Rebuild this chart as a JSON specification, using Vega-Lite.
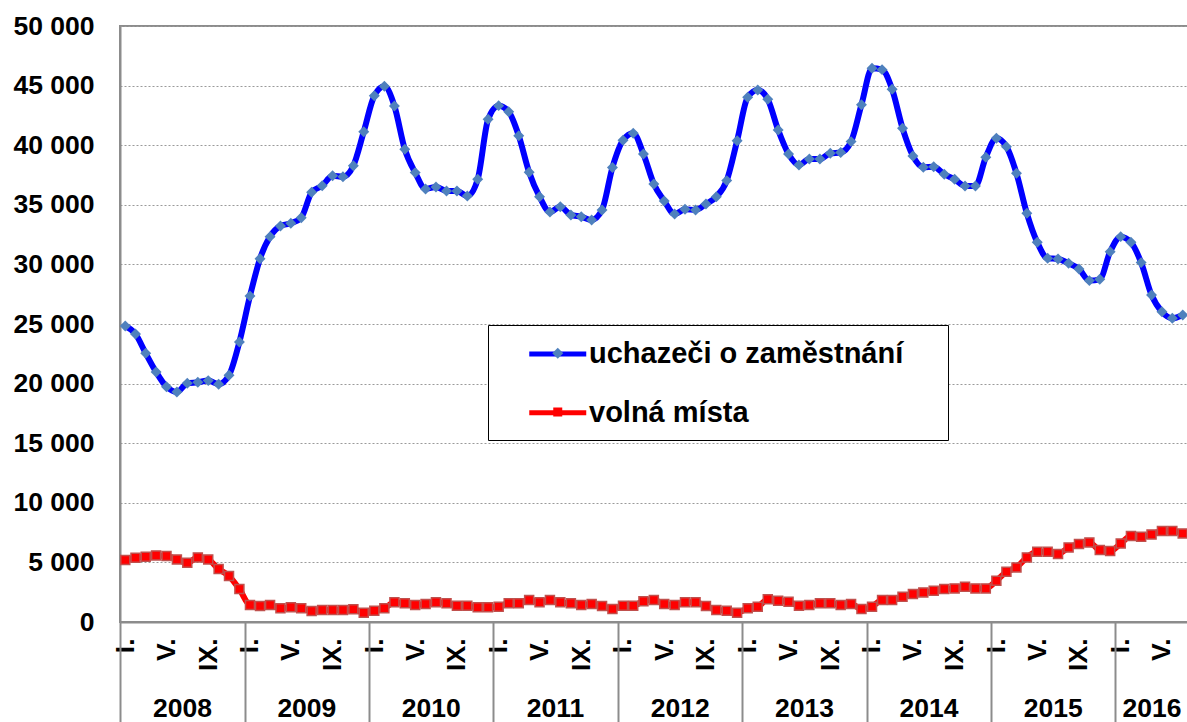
{
  "$schema": "https://vega.github.io/schema/vega-lite/v6.json",
  "width": 1068,
  "height": 596,
  "autosize": {"type": "none"},
  "padding": {"left": 120, "top": 26, "right": 0, "bottom": 100},
  "background": "white",
  "config": {
    "view": {"stroke": "#8c8c8c", "strokeWidth": 2},
    "font": "Liberation Sans",
    "axis": {"labelFont": "Liberation Sans", "labelFontWeight": "bold", "labelColor": "black", "labelFontSize": 26.5},
    "axisX": {"grid": false}
  },
  "data": {
    "values": [
      {"month": "2008-01", "uchazeči o zaměstnání": 24830, "volná místa": 5195},
      {"month": "2008-02", "uchazeči o zaměstnání": 24160, "volná místa": 5390},
      {"month": "2008-03", "uchazeči o zaměstnání": 22540, "volná místa": 5475},
      {"month": "2008-04", "uchazeči o zaměstnání": 20975, "volná místa": 5585},
      {"month": "2008-05", "uchazeči o zaměstnání": 19740, "volná místa": 5530},
      {"month": "2008-06", "uchazeči o zaměstnání": 19300, "volná místa": 5250},
      {"month": "2008-07", "uchazeči o zaměstnání": 20030, "volná místa": 4970},
      {"month": "2008-08", "uchazeči o zaměstnání": 20110, "volná místa": 5420},
      {"month": "2008-09", "uchazeči o zaměstnání": 20250, "volná místa": 5250},
      {"month": "2008-10", "uchazeči o zaměstnání": 19950, "volná místa": 4440},
      {"month": "2008-11", "uchazeči o zaměstnání": 20700, "volná místa": 3855},
      {"month": "2008-12", "uchazeči o zaměstnání": 23490, "volná místa": 2765},
      {"month": "2009-01", "uchazeči o zaměstnání": 27350, "volná místa": 1425},
      {"month": "2009-02", "uchazeči o zaměstnání": 30480, "volná místa": 1340},
      {"month": "2009-03", "uchazeči o zaměstnání": 32330, "volná místa": 1425},
      {"month": "2009-04", "uchazeči o zaměstnání": 33220, "volná místa": 1145},
      {"month": "2009-05", "uchazeči o zaměstnání": 33450, "volná místa": 1230},
      {"month": "2009-06", "uchazeči o zaměstnání": 33920, "volná místa": 1145},
      {"month": "2009-07", "uchazeči o zaměstnání": 36050, "volná místa": 920},
      {"month": "2009-08", "uchazeči o zaměstnání": 36600, "volná místa": 1005},
      {"month": "2009-09", "uchazeči o zaměstnání": 37440, "volná místa": 1005},
      {"month": "2009-10", "uchazeči o zaměstnání": 37360, "volná místa": 1005},
      {"month": "2009-11", "uchazeči o zaměstnání": 38280, "volná místa": 1060},
      {"month": "2009-12", "uchazeči o zaměstnání": 41130, "volná místa": 780},
      {"month": "2010-01", "uchazeči o zaměstnání": 44150, "volná místa": 950},
      {"month": "2010-02", "uchazeči o zaměstnání": 44940, "volná místa": 1145},
      {"month": "2010-03", "uchazeči o zaměstnání": 43290, "volná místa": 1650},
      {"month": "2010-04", "uchazeči o zaměstnání": 39660, "volná místa": 1565},
      {"month": "2010-05", "uchazeči o zaměstnání": 37700, "volná místa": 1425},
      {"month": "2010-06", "uchazeči o zaměstnání": 36330, "volná místa": 1510},
      {"month": "2010-07", "uchazeči o zaměstnání": 36500, "volná místa": 1650},
      {"month": "2010-08", "uchazeči o zaměstnání": 36160, "volná místa": 1565},
      {"month": "2010-09", "uchazeči o zaměstnání": 36160, "volná místa": 1370},
      {"month": "2010-10", "uchazeči o zaměstnání": 35740, "volná místa": 1370},
      {"month": "2010-11", "uchazeči o zaměstnání": 37140, "volná místa": 1230},
      {"month": "2010-12", "uchazeči o zaměstnání": 42170, "volná místa": 1230},
      {"month": "2011-01", "uchazeči o zaměstnání": 43320, "volná místa": 1285},
      {"month": "2011-02", "uchazeči o zaměstnání": 42810, "volná místa": 1565},
      {"month": "2011-03", "uchazeči o zaměstnání": 40800, "volná místa": 1565},
      {"month": "2011-04", "uchazeči o zaměstnání": 37730, "volná místa": 1845},
      {"month": "2011-05", "uchazeči o zaměstnání": 35680, "volná místa": 1650},
      {"month": "2011-06", "uchazeči o zaměstnání": 34400, "volná místa": 1845},
      {"month": "2011-07", "uchazeči o zaměstnání": 34840, "volná místa": 1650},
      {"month": "2011-08", "uchazeči o zaměstnání": 34150, "volná místa": 1565},
      {"month": "2011-09", "uchazeči o zaměstnání": 34000, "volná místa": 1425},
      {"month": "2011-10", "uchazeči o zaměstnání": 33730, "volná místa": 1510},
      {"month": "2011-11", "uchazeči o zaměstnání": 34570, "volná místa": 1340},
      {"month": "2011-12", "uchazeči o zaměstnání": 38130, "volná místa": 1090},
      {"month": "2012-01", "uchazeči o zaměstnání": 40410, "volná místa": 1370},
      {"month": "2012-02", "uchazeči o zaměstnání": 41000, "volná místa": 1370},
      {"month": "2012-03", "uchazeči o zaměstnání": 39260, "volná místa": 1750},
      {"month": "2012-04", "uchazeči o zaměstnání": 36750, "volná místa": 1845},
      {"month": "2012-05", "uchazeči o zaměstnání": 35320, "volná místa": 1510},
      {"month": "2012-06", "uchazeči o zaměstnání": 34230, "volná místa": 1425},
      {"month": "2012-07", "uchazeči o zaměstnání": 34620, "volná místa": 1650},
      {"month": "2012-08", "uchazeči o zaměstnání": 34570, "volná místa": 1650},
      {"month": "2012-09", "uchazeči o zaměstnání": 35070, "volná místa": 1340},
      {"month": "2012-10", "uchazeči o zaměstnání": 35680, "volná místa": 1005},
      {"month": "2012-11", "uchazeči o zaměstnání": 37030, "volná místa": 950},
      {"month": "2012-12", "uchazeči o zaměstnání": 40380, "volná místa": 780},
      {"month": "2013-01", "uchazeči o zaměstnání": 44020, "volná místa": 1145},
      {"month": "2013-02", "uchazeči o zaměstnání": 44630, "volná místa": 1285},
      {"month": "2013-03", "uchazeči o zaměstnání": 43850, "volná místa": 1900},
      {"month": "2013-04", "uchazeči o zaměstnání": 41280, "volná místa": 1790},
      {"month": "2013-05", "uchazeči o zaměstnání": 39260, "volná místa": 1700},
      {"month": "2013-06", "uchazeči o zaměstnání": 38340, "volná místa": 1370},
      {"month": "2013-07", "uchazeči o zaměstnání": 38840, "volná místa": 1425},
      {"month": "2013-08", "uchazeči o zaměstnání": 38840, "volná místa": 1565},
      {"month": "2013-09", "uchazeči o zaměstnání": 39320, "volná místa": 1565},
      {"month": "2013-10", "uchazeči o zaměstnání": 39390, "volná místa": 1425},
      {"month": "2013-11", "uchazeči o zaměstnání": 40300, "volná místa": 1510},
      {"month": "2013-12", "uchazeči o zaměstnání": 43400, "volná místa": 1090},
      {"month": "2014-01", "uchazeči o zaměstnání": 46450, "volná místa": 1285},
      {"month": "2014-02", "uchazeči o zaměstnání": 46340, "volná místa": 1845},
      {"month": "2014-03", "uchazeči o zaměstnání": 44690, "volná místa": 1845},
      {"month": "2014-04", "uchazeči o zaměstnání": 41430, "volná místa": 2120},
      {"month": "2014-05", "uchazeči o zaměstnání": 39100, "volná místa": 2345},
      {"month": "2014-06", "uchazeči o zaměstnání": 38150, "volná místa": 2485},
      {"month": "2014-07", "uchazeči o zaměstnání": 38200, "volná místa": 2625},
      {"month": "2014-08", "uchazeči o zaměstnání": 37560, "volná místa": 2765},
      {"month": "2014-09", "uchazeči o zaměstnání": 37140, "volná místa": 2820},
      {"month": "2014-10", "uchazeči o zaměstnání": 36580, "volná místa": 2960},
      {"month": "2014-11", "uchazeči o zaměstnání": 36580, "volná místa": 2820},
      {"month": "2014-12", "uchazeči o zaměstnání": 38990, "volná místa": 2820},
      {"month": "2015-01", "uchazeči o zaměstnání": 40580, "volná místa": 3465},
      {"month": "2015-02", "uchazeči o zaměstnání": 39880, "volná místa": 4220},
      {"month": "2015-03", "uchazeči o zaměstnání": 37640, "volná místa": 4580},
      {"month": "2015-04", "uchazeči o zaměstnání": 34290, "volná místa": 5420},
      {"month": "2015-05", "uchazeči o zaměstnání": 31860, "volná místa": 5890},
      {"month": "2015-06", "uchazeči o zaměstnání": 30510, "volná místa": 5890},
      {"month": "2015-07", "uchazeči o zaměstnání": 30460, "volná místa": 5700},
      {"month": "2015-08", "uchazeči o zaměstnání": 30090, "volná místa": 6255},
      {"month": "2015-09", "uchazeči o zaměstnání": 29620, "volná místa": 6535},
      {"month": "2015-10", "uchazeči o zaměstnání": 28640, "volná místa": 6675},
      {"month": "2015-11", "uchazeči o zaměstnání": 28750, "volná místa": 6030},
      {"month": "2015-12", "uchazeči o zaměstnání": 31070, "volná místa": 5950},
      {"month": "2016-01", "uchazeči o zaměstnání": 32330, "volná místa": 6590},
      {"month": "2016-02", "uchazeči o zaměstnání": 31860, "volná místa": 7205},
      {"month": "2016-03", "uchazeči o zaměstnání": 30150, "volná místa": 7150},
      {"month": "2016-04", "uchazeči o zaměstnání": 27430, "volná místa": 7345},
      {"month": "2016-05", "uchazeči o zaměstnání": 26030, "volná místa": 7625},
      {"month": "2016-06", "uchazeči o zaměstnání": 25480, "volná místa": 7625},
      {"month": "2016-07", "uchazeči o zaměstnání": 25760, "volná místa": 7430}
    ]
  },
  "transform": [
    {"fold": ["uchazeči o zaměstnání", "volná místa"], "as": ["series", "value"]}
  ],
  "encoding": {
    "y": {
      "field": "value",
      "type": "quantitative",
      "scale": {"domain": [0, 50000], "nice": false, "zero": true},
      "axis": {
        "title": null,
        "values": [0, 5000, 10000, 15000, 20000, 25000, 30000, 35000, 40000, 45000, 50000],
        "labelExpr": "replace(format(datum.value, ','), ',', ' ')",
        "ticks": false,
        "labelPadding": 26,
        "domainColor": "#8c8c8c",
        "domainWidth": 2,
        "gridColor": "#9a9a9a",
        "gridDash": [2, 2],
        "gridWidth": 1
      }
    }
  },
  "layer": [
    {
      "mark": {"type": "line", "strokeWidth": 6, "interpolate": "monotone"},
      "encoding": {
        "x": {
          "field": "month",
          "type": "temporal",
          "timeUnit": "utcyearmonth",
          "bandPosition": 0.5,
          "scale": {"domain": [{"year": 2008, "month": 1, "date": 1, "utc": true}, {"year": 2016, "month": 8, "date": 1, "utc": true}]},
          "axis": {
            "title": null,
            "orient": "bottom",
            "values": [
              {"year": 2008, "month": 1, "date": 16, "utc": true}, {"year": 2008, "month": 5, "date": 16, "utc": true}, {"year": 2008, "month": 9, "date": 16, "utc": true},
              {"year": 2009, "month": 1, "date": 16, "utc": true}, {"year": 2009, "month": 5, "date": 16, "utc": true}, {"year": 2009, "month": 9, "date": 16, "utc": true},
              {"year": 2010, "month": 1, "date": 16, "utc": true}, {"year": 2010, "month": 5, "date": 16, "utc": true}, {"year": 2010, "month": 9, "date": 16, "utc": true},
              {"year": 2011, "month": 1, "date": 16, "utc": true}, {"year": 2011, "month": 5, "date": 16, "utc": true}, {"year": 2011, "month": 9, "date": 16, "utc": true},
              {"year": 2012, "month": 1, "date": 16, "utc": true}, {"year": 2012, "month": 5, "date": 16, "utc": true}, {"year": 2012, "month": 9, "date": 16, "utc": true},
              {"year": 2013, "month": 1, "date": 16, "utc": true}, {"year": 2013, "month": 5, "date": 16, "utc": true}, {"year": 2013, "month": 9, "date": 16, "utc": true},
              {"year": 2014, "month": 1, "date": 16, "utc": true}, {"year": 2014, "month": 5, "date": 16, "utc": true}, {"year": 2014, "month": 9, "date": 16, "utc": true},
              {"year": 2015, "month": 1, "date": 16, "utc": true}, {"year": 2015, "month": 5, "date": 16, "utc": true}, {"year": 2015, "month": 9, "date": 16, "utc": true},
              {"year": 2016, "month": 1, "date": 16, "utc": true}, {"year": 2016, "month": 5, "date": 16, "utc": true}
            ],
            "labelExpr": "utcmonth(datum.value) == 0 ? 'I.' : (utcmonth(datum.value) == 4 ? 'V.' : 'IX.')",
            "labelAngle": 270,
            "labelAlign": "right",
            "labelBaseline": "middle",
            "ticks": false,
            "labelPadding": 16,
            "labelFlush": false,
            "labelOverlap": false,
            "labelBound": false,
            "domainColor": "#8c8c8c",
            "domainWidth": 2,
            "grid": false
          }
        },
        "stroke": {
          "field": "series",
          "type": "nominal",
          "scale": {"range": ["#0000FF", "#FF0000"]},
          "legend": {
            "title": ".",
            "titleOrient": "right",
            "titleOpacity": 0,
            "titleFontSize": 10,
            "titlePadding": 30,
            "orient": "none",
            "legendX": 368,
            "legendY": 299,
            "symbolType": "M-2,0H2",
            "symbolSize": 812,
            "symbolStrokeWidth": 5,
            "labelFont": "Liberation Sans",
            "labelFontSize": 29,
            "labelFontWeight": "bold",
            "labelColor": "black",
            "labelLimit": 1000,
            "padding": 12,
            "rowPadding": 26.75,
            "symbolOffset": 40.75,
            "labelOffset": 14.25,
            "fillColor": "white",
            "strokeColor": "black"
          }
        }
      }
    },
    {
      "mark": {"type": "point", "filled": true, "opacity": 1, "strokeWidth": 1.5},
      "encoding": {
        "x": {
          "field": "month",
          "type": "temporal",
          "timeUnit": "utcyearmonth",
          "bandPosition": 0.5,
          "scale": {"domain": [{"year": 2008, "month": 1, "date": 1, "utc": true}, {"year": 2016, "month": 8, "date": 1, "utc": true}]},
          "axis": {
            "title": null,
            "orient": "bottom",
            "values": [
              {"year": 2008, "month": 1, "date": 1, "utc": true}, {"year": 2009, "month": 1, "date": 1, "utc": true}, {"year": 2010, "month": 1, "date": 1, "utc": true},
              {"year": 2011, "month": 1, "date": 1, "utc": true}, {"year": 2012, "month": 1, "date": 1, "utc": true}, {"year": 2013, "month": 1, "date": 1, "utc": true},
              {"year": 2014, "month": 1, "date": 1, "utc": true}, {"year": 2015, "month": 1, "date": 1, "utc": true}, {"year": 2016, "month": 1, "date": 1, "utc": true},
              {"year": 2008, "month": 7, "date": 1, "utc": true}, {"year": 2009, "month": 7, "date": 1, "utc": true}, {"year": 2010, "month": 7, "date": 1, "utc": true},
              {"year": 2011, "month": 7, "date": 1, "utc": true}, {"year": 2012, "month": 7, "date": 1, "utc": true}, {"year": 2013, "month": 7, "date": 1, "utc": true},
              {"year": 2014, "month": 7, "date": 1, "utc": true}, {"year": 2015, "month": 7, "date": 1, "utc": true}, {"year": 2016, "month": 4, "date": 16, "utc": true}
            ],
            "labelExpr": "(utcmonth(datum.value) == 0 && utcdate(datum.value) == 1) ? '' : '' + utcyear(datum.value)",
            "ticks": true,
            "tickSize": 100,
            "tickColor": "#8c8c8c",
            "tickWidth": 2,
            "tickOpacity": {"condition": {"test": "utcmonth(datum.value) == 0 && utcdate(datum.value) == 1", "value": 1}, "value": 0},
            "labelPadding": -27,
            "labelBaseline": "top",
            "labelAngle": 0,
            "labelFlush": false,
            "labelOverlap": false,
            "labelBound": false,
            "domain": false,
            "grid": false
          }
        },
        "fill": {
          "field": "series",
          "type": "nominal",
          "scale": {"domain": ["uchazeči o zaměstnání", "volná místa"], "range": ["#4F81BD", "#FF0000"]},
          "legend": {
            "title": null,
            "orient": "none",
            "legendX": 432.25,
            "legendY": 321.75,
            "labelExpr": "''",
            "labelFontSize": 1,
            "padding": 0,
            "rowPadding": 48.75,
            "symbolStrokeWidth": 0
          }
        },
        "shape": {
          "field": "series",
          "type": "nominal",
          "scale": {"domain": ["uchazeči o zaměstnání", "volná místa"], "range": ["diamond", "square"]},
          "legend": {
            "title": null,
            "orient": "none",
            "legendX": 432.25,
            "legendY": 321.75,
            "labelExpr": "''",
            "labelFontSize": 1,
            "padding": 0,
            "rowPadding": 48.75,
            "symbolStrokeWidth": 0
          }
        },
        "size": {
          "field": "series",
          "type": "ordinal",
          "scale": {"domain": ["uchazeči o zaměstnání", "volná místa"], "range": [120, 81]},
          "legend": {
            "title": null,
            "orient": "none",
            "legendX": 432.25,
            "legendY": 321.75,
            "labelExpr": "''",
            "labelFontSize": 1,
            "padding": 0,
            "rowPadding": 48.75,
            "symbolStrokeWidth": 0
          }
        },
        "stroke": {
          "condition": {"test": "datum.series == 'volná místa'", "value": "#C0504D"},
          "value": "transparent"
        }
      }
    }
  ],
  "resolve": {"axis": {"x": "independent"}}
}
